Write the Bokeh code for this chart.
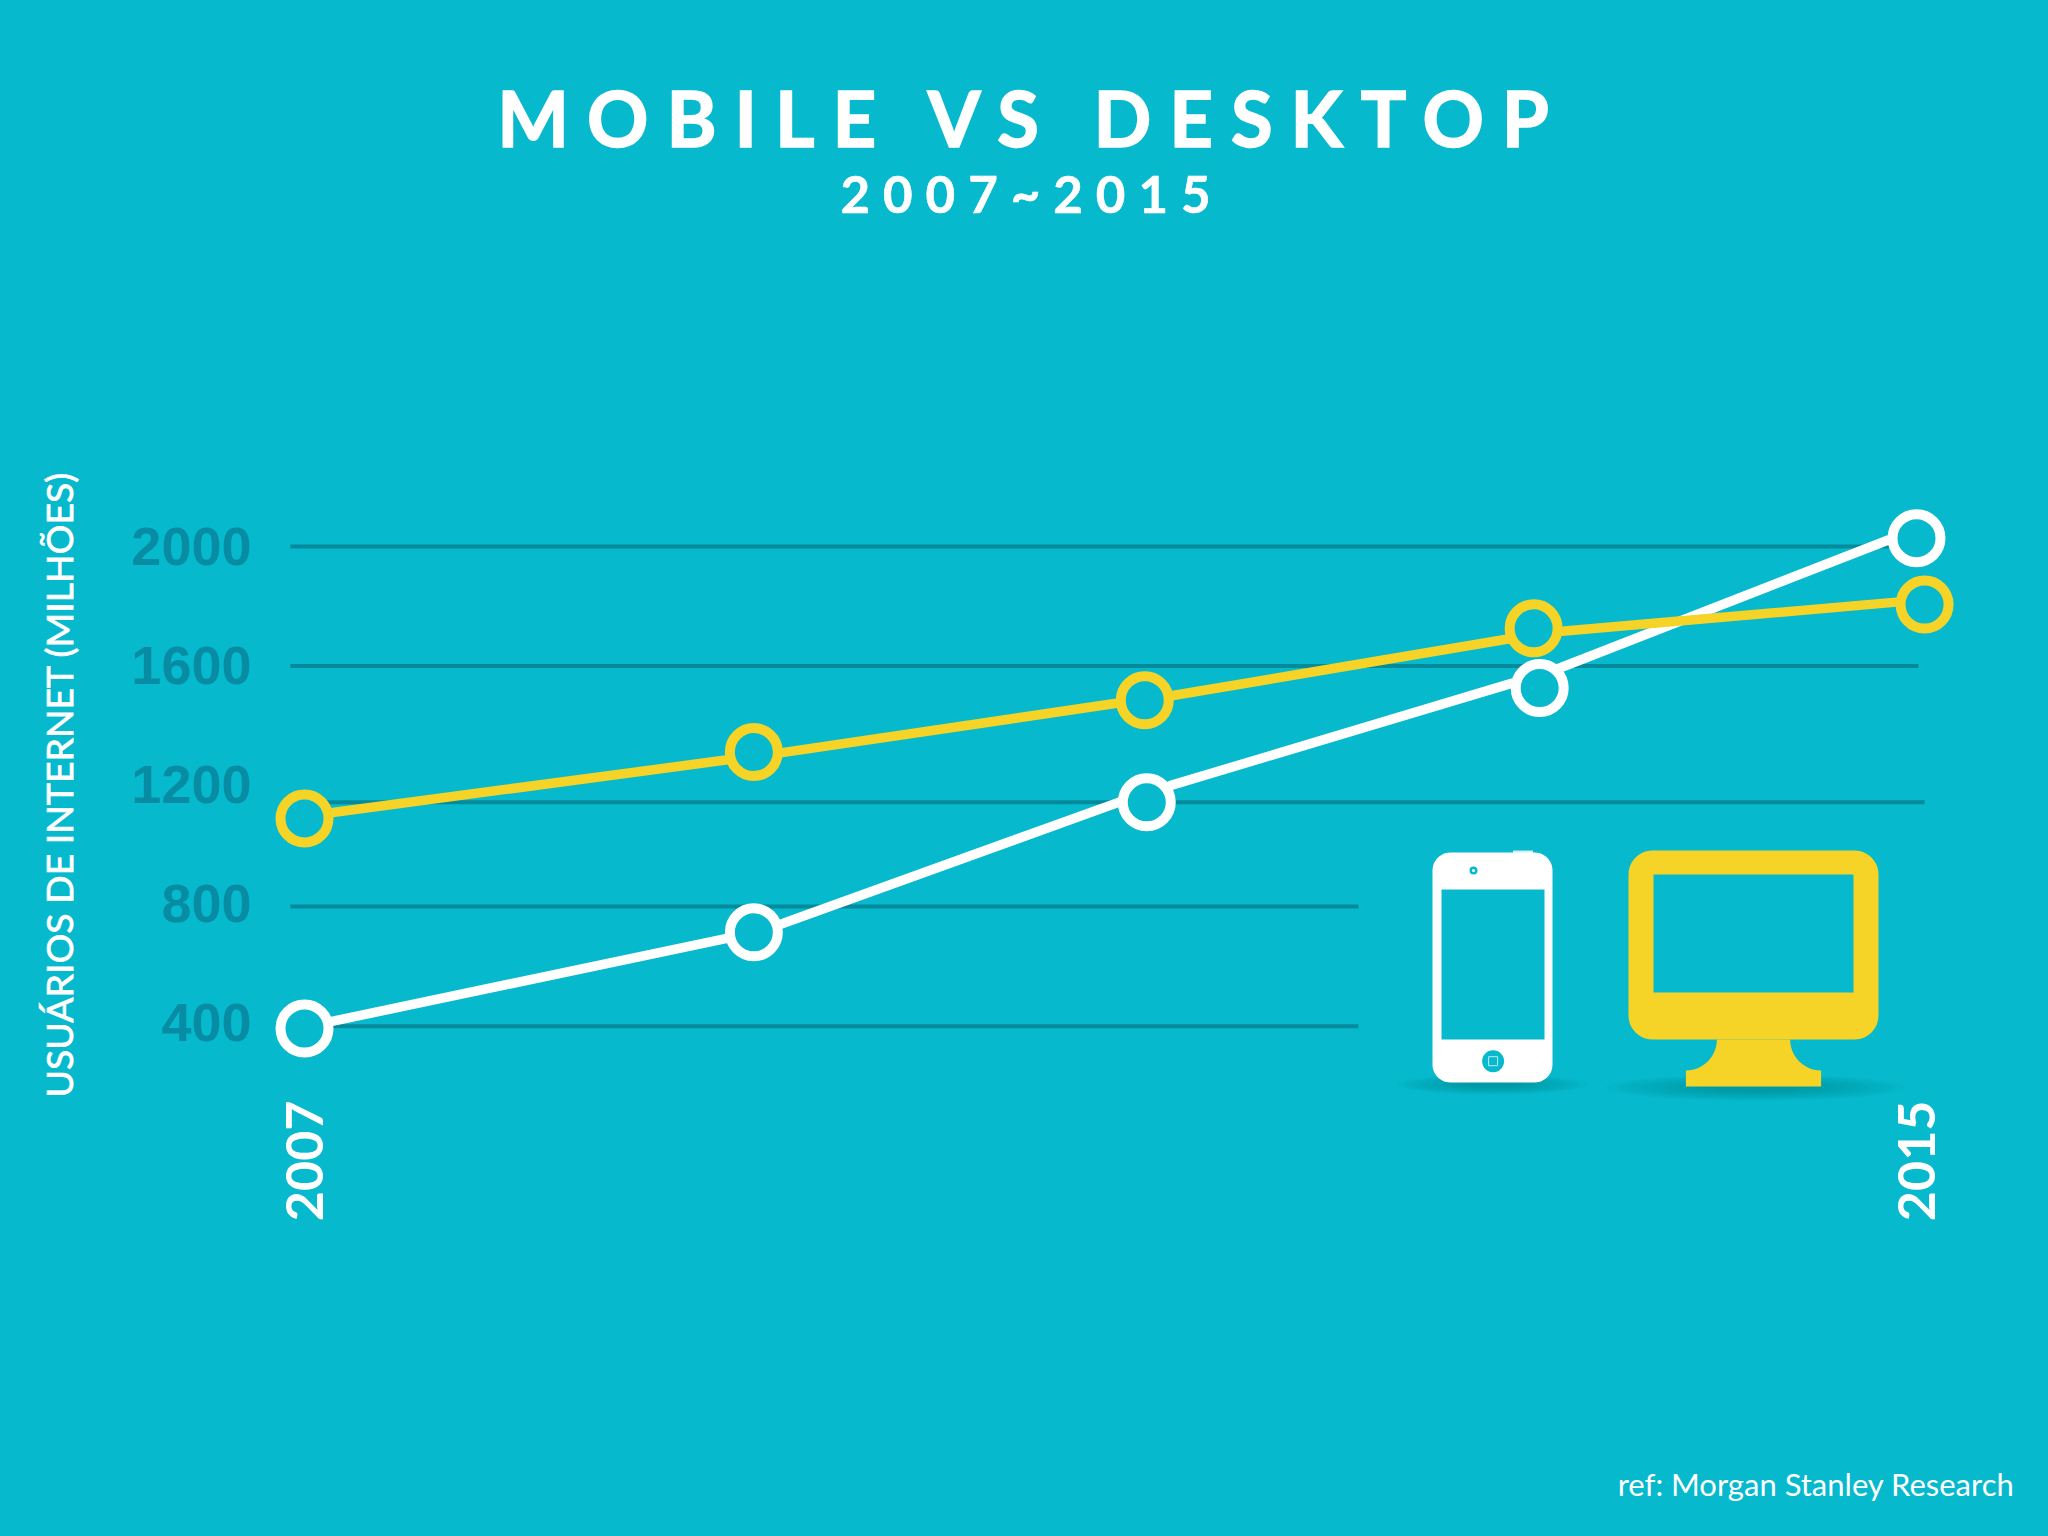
import math
from bokeh.embed import file_html
from bokeh.resources import INLINE
from bokeh.plotting import figure
from bokeh.models import FixedTicker
from bokeh.core.properties import value

title_text = "MOBILE VS DESKTOP"
subtitle_text = "2007~2015"
y_axis_title = "USUÁRIOS DE INTERNET (MILHÕES)"
footer_text = "ref: Morgan Stanley Research"

x_ticks = [2007, 2015]
y_ticks = [400, 800, 1200, 1600, 2000]

mobile_x = [2007, 2009.23, 2011.18, 2013.13, 2015]
mobile_y = [380, 703, 1140, 1524, 2028]
desktop_x = [2007, 2009.23, 2011.17, 2013.10, 2015.04]
desktop_y = [1086, 1309, 1483, 1725, 1805]

# the connecting strokes do not run exactly through the circle centres
mobile_seg_x0 = [2007.13, 2009.37, 2011.30, 2013.22]
mobile_seg_y0 = [403, 732, 1197, 1589]
mobile_seg_x1 = [2009.09, 2011.04, 2012.99, 2014.86]
mobile_seg_y1 = [682, 1140, 1540, 2022]
desktop_seg_x0 = [2007.14, 2009.37, 2011.31, 2013.24]
desktop_seg_y0 = [1106, 1307, 1499, 1715]
desktop_seg_x1 = [2009.10, 2011.03, 2012.98, 2014.90]
desktop_seg_y1 = [1283, 1473, 1690, 1813]

grid_y = [2000, 1598, 1140, 790, 387]
grid_x0 = [2006.93, 2006.93, 2006.93, 2006.93, 2006.93]
grid_x1 = [2015.01, 2015.01, 2015.04, 2012.23, 2012.23]

BG = "#06b9cd"
GRID = "#058a9c"
TICK = "#088ca3"
WHITE = "#ffffff"
YELLOW = "#f5d327"
SHADOW = "#03717f"

W, H = 2032, 1520
LEFT, RIGHT, TOP, BOTTOM = 262, 1960, 456, 1112   # frame edges on the page

def X(px):
    return 2007 + (px - 304) / 201.5

def Y(py):
    return 2000 - (py - 546) / 0.2975

p = figure(width=W, height=H, output_backend="svg", toolbar_location=None,
           x_range=(X(LEFT), X(RIGHT)), y_range=(Y(BOTTOM), Y(TOP)),
           background_fill_color=BG, border_fill_color=BG,
           min_border_left=LEFT, min_border_right=W - RIGHT,
           min_border_top=TOP, min_border_bottom=H - BOTTOM)
p.outline_line_color = None
p.grid.visible = False

for ax in (p.xaxis[0], p.yaxis[0]):
    ax.axis_line_color = None
    ax.major_tick_line_color = None
    ax.minor_tick_line_color = None

xa = p.xaxis[0]
xa.ticker = FixedTicker(ticks=x_ticks)
xa.major_label_orientation = math.pi / 2
xa.major_label_standoff = -18
xa.major_label_text_color = WHITE
xa.major_label_text_font = "Lato"
xa.major_label_text_font_style = "bold"
xa.major_label_text_font_size = "52px"

ya = p.yaxis[0]
ya.ticker = FixedTicker(ticks=y_ticks)
ya.major_label_standoff = 5
ya.major_label_text_color = TICK
ya.major_label_text_font = "Liberation Sans"
ya.major_label_text_font_style = "bold"
ya.major_label_text_font_size = "54px"
ya.axis_label = y_axis_title
ya.axis_label_standoff = 47
ya.axis_label_text_color = WHITE
ya.axis_label_text_font = "Lato"
ya.axis_label_text_font_style = "normal"
ya.axis_label_text_font_size = "37.4px"

p.segment(grid_x0, grid_y, grid_x1, grid_y, line_color=GRID, line_width=4)

# soft shadows under the two icons
for i in range(10):
    frac = 1.0 - i * 0.08
    p.ellipse([X(1492)], [Y(1084)], width=[190 * frac / 201.5], height=[20 * frac / 0.2975],
              fill_color=SHADOW, fill_alpha=0.05, line_color=None)
    p.ellipse([X(1755)], [Y(1087)], width=[300 * frac / 201.5], height=[26 * frac / 0.2975],
              fill_color=SHADOW, fill_alpha=0.05, line_color=None)

def rounded(l, t, r, b, rad):
    pts = []
    for cx, cy, a0 in ((r - rad, t + rad, -90), (r - rad, b - rad, 0), (l + rad, b - rad, 90), (l + rad, t + rad, 180)):
        for i in range(13):
            a = math.radians(a0 + i * 7.5)
            pts.append((cx + rad * math.cos(a), cy + rad * math.sin(a)))
    return pts

def draw(pts, color):
    p.patch([X(a) for a, _ in pts], [Y(b) for _, b in pts], fill_color=color, line_color=None)

def rect(l, t, r, b, color):
    p.quad(left=[X(l)], right=[X(r)], top=[Y(t)], bottom=[Y(b)], fill_color=color, line_color=None)

# phone icon
rect(1512.5, 850, 1532.5, 854, "#cfeff4")
draw(rounded(1432, 852, 1552, 1082, 18), WHITE)
rect(1441, 889, 1544, 1039, BG)
p.scatter([X(1473)], [Y(870)], size=8, fill_color=BG, line_color=None)
p.scatter([X(1473)], [Y(870)], size=3, fill_color=WHITE, line_color=None)
p.scatter([X(1492.6)], [Y(1060.7)], size=22, fill_color=BG, line_color=None)
p.scatter([X(1492.6)], [Y(1060.7)], size=9, marker="square", fill_color=None, line_color="#bfeaf1", line_width=1)

# monitor icon
stand = []
for i in range(13):
    a = math.radians(i * 7.5)
    stand.append((1685.4 + 31 * math.cos(a), 1039 + 31 * math.sin(a)))
stand.append((1685.4, 1086))
stand.append((1820.6, 1086))
for i in range(13):
    a = math.radians(90 + i * 7.5)
    stand.append((1820.6 + 31 * math.cos(a), 1039 + 31 * math.sin(a)))
draw(stand, YELLOW)
draw(rounded(1628, 850, 1878, 1039, 24), YELLOW)
rect(1653, 874, 1853, 992, BG)

# series
p.segment(mobile_seg_x0, mobile_seg_y0, mobile_seg_x1, mobile_seg_y1, line_color=WHITE, line_width=9.5, line_cap="round")
p.segment(desktop_seg_x0, desktop_seg_y0, desktop_seg_x1, desktop_seg_y1, line_color=YELLOW, line_width=9.5, line_cap="round")
p.scatter(mobile_x, mobile_y, size=48, fill_color=BG, line_color=WHITE, line_width=10)
p.scatter(desktop_x, desktop_y, size=48, fill_color=BG, line_color=YELLOW, line_width=10)

TITLE_SP, SUB_SP = 18, 13
def page_text(px, py, txt, size, align="center", style="normal"):
    p.text([X(px)], [Y(py)], text=[txt], text_color=WHITE, text_font=value("Lato"),
           text_font_style=style, text_font_size=size, text_align=align,
           text_baseline="alphabetic", level="overlay")

page_text(1024 - 8 * TITLE_SP, 117, title_text, "76px", style="bold")
page_text(1025 - 4 * SUB_SP, 193, subtitle_text, "51px", style="bold")
page_text(2014, 1483, footer_text, "31px", align="right")

html = file_html(p, INLINE)
extra_head = "<style>html,body{background:%s;overflow:hidden}</style>" % BG
extra_body = """<script>
(function(){
  var sp = {"%s":["%dpx","1.6px"],"%s":["%dpx","0.6px"],"%s":["0px","0.7px"]};
  function walk(root){
    root.querySelectorAll('*').forEach(function(el){
      if(el.shadowRoot) walk(el.shadowRoot);
      if(el.tagName && el.tagName.toLowerCase()==='text' && sp[el.textContent]){
        var s = sp[el.textContent];
        el.style.letterSpacing = s[0];
        el.style.stroke = '#ffffff';
        el.style.strokeWidth = s[1];
      }
    });
  }
  var n=0, t=setInterval(function(){ walk(document); if(++n>60) clearInterval(t); }, 100);
})();
</script>""" % (title_text, TITLE_SP, subtitle_text, SUB_SP, y_axis_title)
html = html.replace("</head>", extra_head + "</head>").replace("</body>", extra_body + "</body>")
open("out.html", "w", encoding="utf-8").write(html)
